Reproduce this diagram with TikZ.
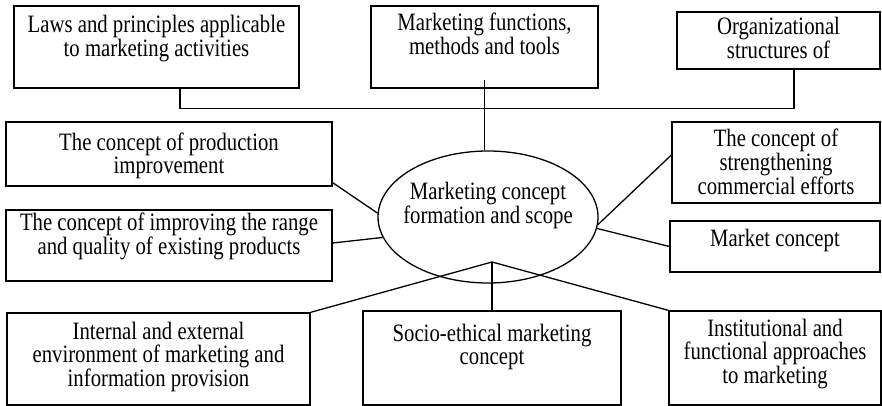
\documentclass[tikz,border=0pt]{standalone}
\usepackage{fontspec}
\setmainfont{Liberation Serif}[FakeStretch=0.83]
\usetikzlibrary{shapes.geometric}
\newcommand{\cell}[4]{\parbox[c][#2][t]{#1}{\centering\rule{0pt}{#3}#4\par}}

\begin{document}
\begin{tikzpicture}[x=1pt,y=1pt,line width=1.3pt,
  every node/.style={font=\fontsize{25pt}{22.5pt}\selectfont},
  box/.style={draw,rectangle,inner sep=0pt},
  core/.style={draw,ellipse,inner sep=0pt,minimum width=220pt,minimum height=132pt}]
\useasboundingbox (0,0) rectangle (882,406);
\node[box] (laws) at (156.5,359) {\cell{285pt}{82pt}{27pt}{Laws and principles applicable\\to marketing activities}};
\node[box] (tools) at (484.5,359) {\cell{227pt}{82pt}{25pt}{Marketing functions,\\methods and tools}};
\node[box] (org) at (778.5,365.5) {\cell{203pt}{57pt}{23pt}{Organizational\\structures of}};
\node[box] (prod) at (169,252) {\cell{326pt}{64pt}{29pt}{The concept of production\\improvement}};
\node[box] (range) at (169,160.5) {\cell{326pt}{71pt}{21pt}{The concept of improving the range\\and quality of existing products}};
\node[box] (strength) at (776,243.5) {\cell{208pt}{81pt}{25pt}{The concept of\\strengthening\\commercial efforts}};
\node[box] (market) at (775,159.5) {\cell{210pt}{51pt}{26pt}{Market concept}};
\node[box] (internal) at (158.5,47) {\cell{303pt}{92pt}{27pt}{Internal and external\\environment of marketing and\\information provision}};
\node[box] (socio) at (492,48) {\cell{258pt}{94pt}{31pt}{Socio-ethical marketing\\concept}};
\node[box] (inst) at (775,48) {\cell{212pt}{94pt}{26pt}{Institutional and\\functional approaches\\to marketing}};
\node[core,label={[name=corelabel,align=center,yshift=11.5pt]center:Marketing concept\\formation and scope}] (core) at (488,189) {};
\coordinate (hub) at (492,144);
\draw ([xshift=23.5pt]laws.south) -- ++(0,-20) -| ([xshift=15.5pt]org.south);
\draw ([yshift=9pt]tools.south) -- (tools.south |- core.north);
\draw ([yshift=4pt]prod.south east) -- (core.178);
\draw ([yshift=2.5pt]range.east) -- (core.191);
\draw ([yshift=7.5pt]strength.west) -- (core.356);
\draw (market.west) -- (core.354);
\draw (internal.north east) -- (hub) -- (inst.north west);
\draw (socio.north) -- (hub);
\end{tikzpicture}
\end{document}
